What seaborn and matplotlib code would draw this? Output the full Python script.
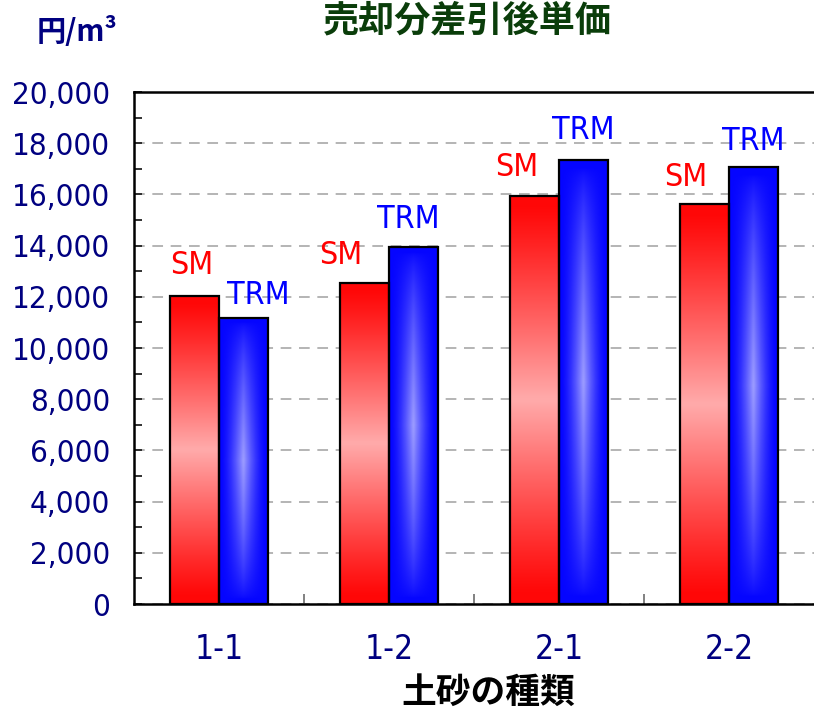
import numpy as np
import pandas as pd
import matplotlib
matplotlib.use("Agg")
import matplotlib.pyplot as plt
from matplotlib.ticker import MultipleLocator, FuncFormatter, FixedLocator
import seaborn as sns

# --- data ---------------------------------------------------------------
categories = ["1-1", "1-2", "2-1", "2-2"]
series = ["SM", "TRM"]
sm_values = [12050, 12550, 15950, 15620]
trm_values = [11180, 13950, 17330, 17070]

title = "売却分差引後単価"
xlabel = "土砂の種類"
unit_label = "円/m³"

df = pd.DataFrame({
    "cat": categories * 2,
    "series": ["SM"] * len(categories) + ["TRM"] * len(categories),
    "value": sm_values + trm_values,
})

sns.set_theme(style="white")
narrow = ["DejaVu Sans", "Noto Sans CJK JP"]
cjk = ["Noto Sans CJK JP", "DejaVu Sans"]
plt.rcParams["font.family"] = narrow
plt.rcParams["font.stretch"] = "condensed"

fig = plt.figure(figsize=(8.14, 7.15), dpi=100)
ax = fig.add_axes([134 / 814, 111 / 715, 680 / 814, 512 / 715])

sns.barplot(data=df, x="cat", y="value", hue="series", hue_order=series,
            order=categories, palette={"SM": "#ff0000", "TRM": "#0000ff"},
            width=0.576, gap=0, dodge=True, legend=False, ax=ax,
            edgecolor="black", linewidth=1.6, zorder=3)

ax.set_xlim(-0.5, 3.5)
ax.set_ylim(0, 20000)


def red_fill(h, w):
    t = np.linspace(0, 1, h)[:, None]
    light = np.clip(1 - np.abs(2 * t - 1) / 0.95, 0, 1) ** 1.1
    img = np.zeros((h, w, 3))
    img[..., 0] = 1.0
    img[..., 1] = 0.03 + 0.64 * light
    img[..., 2] = 0.03 + 0.64 * light
    return img


def blue_fill(h, w):
    t = np.linspace(0, 1, h)[:, None]
    s = np.linspace(0, 1, w)[None, :]
    vy = np.clip(1 - np.abs(2 * t - 1) / 0.97, 0, 1) ** 0.7
    hx = np.clip(1 - np.abs(2 * s - 1) / 0.95, 0, 1) ** 1.5
    light = vy * hx
    img = np.zeros((h, w, 3))
    img[..., 0] = 0.02 + 0.60 * light
    img[..., 1] = 0.02 + 0.60 * light
    img[..., 2] = 1.0
    return img


# Shade every bar with a gradient clipped to its rectangle
patches = [p for p in ax.patches if p.get_height() > 0]
for p in patches:
    x0, y0 = p.get_x(), p.get_y()
    w, h = p.get_width(), p.get_height()
    is_red = p.get_facecolor()[0] > 0.5
    img = red_fill(200, 40) if is_red else blue_fill(200, 60)
    im = ax.imshow(img, extent=[x0, x0 + w, y0, y0 + h], origin="lower",
                   aspect="auto", zorder=2.5, interpolation="bilinear")
    im.set_clip_path(p)
    p.set_facecolor("none")

ax.set_xlim(-0.5, 3.5)
ax.set_ylim(0, 20000)

# Series labels above each bar
label_offsets = {
    ("SM", 0): (-3, 30), ("TRM", 0): (15, 22),
    ("SM", 1): (-24, 27), ("TRM", 1): (-5, 27),
    ("SM", 2): (-18, 28), ("TRM", 2): (0, 30),
    ("SM", 3): (-19, 27), ("TRM", 3): (0, 26),
}
bar_w = 0.576 / 2
for i, cat in enumerate(categories):
    for j, (name, vals, col) in enumerate([("SM", sm_values, "#ff0000"),
                                           ("TRM", trm_values, "#0000ff")]):
        xc = i - bar_w / 2 + j * bar_w
        dx, dy = label_offsets[(name, i)]
        ax.annotate(name, (xc, vals[i]), xytext=(dx, dy),
                    textcoords="offset pixels", ha="center", va="center",
                    color=col, fontsize=23, family=narrow,
                    fontstretch="condensed", zorder=5)

# Axes styling
ax.yaxis.set_major_locator(MultipleLocator(2000))
ax.yaxis.set_minor_locator(MultipleLocator(1000))
ax.yaxis.set_major_formatter(FuncFormatter(lambda v, _: f"{int(v):,}"))
ax.xaxis.set_minor_locator(FixedLocator([0.5, 1.5, 2.5]))
ax.grid(False)
ax.yaxis.grid(True, which="major", color="#a0a0a0", linestyle=(0, (7, 5)),
              linewidth=1.1, zorder=1)
ax.set_axisbelow(True)

ax.tick_params(axis="y", which="both", direction="in", length=6, width=1.3,
               color="#222222", labelsize=22.5, labelcolor="#000080", pad=17,
               left=True)
ax.tick_params(axis="x", which="major", length=0, labelsize=24,
               labelcolor="#000080", pad=21)
ax.tick_params(axis="x", which="minor", direction="in", length=7, width=1.3,
               color="#777777", bottom=True)
for lab in ax.get_xticklabels() + ax.get_yticklabels():
    lab.set_family(narrow)
    lab.set_fontstretch("condensed")

for side in ["left", "bottom", "top"]:
    ax.spines[side].set_visible(True)
    ax.spines[side].set_color("black")
    ax.spines[side].set_linewidth(1.8)
ax.spines["right"].set_visible(False)

ax.set_xlabel(xlabel, fontsize=25, fontweight="bold", color="black", family=cjk)
ax.xaxis.set_label_coords((488 - 134) / 680, (604 - 692) / 512)
ax.xaxis.label.set_verticalalignment("center")
ax.set_ylabel("")

fig.text(467 / 814, 1 - 21 / 715, title, ha="center", va="center",
         fontsize=26, fontweight="bold", color="#0a3d0a", family=cjk)
fig.text(77 / 814, 1 - 31 / 715, unit_label, ha="center", va="center",
         fontsize=21, fontweight="bold", color="#000080", family=cjk)

fig.savefig("out.png", dpi=100)
